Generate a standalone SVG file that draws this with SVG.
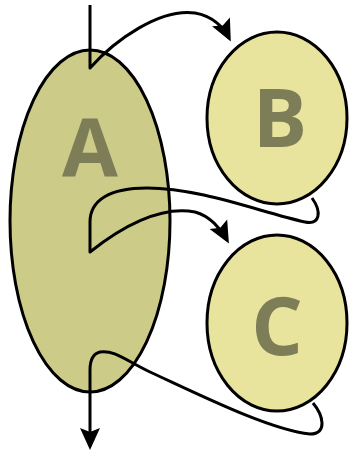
<svg xmlns="http://www.w3.org/2000/svg" width="350" height="453" viewBox="0 0 350 453">
  <style>
    .node { stroke: #000; stroke-width: 3; }
    .big { fill: #cccc88; }
    .small { fill: #e8e49e; }
    .label { font-family: "Open Sans", "Liberation Sans", sans-serif; font-weight: 700; font-size: 81px; fill: #7d7d58; text-anchor: middle; }
    .edge { fill: none; stroke: #000; stroke-width: 3; stroke-linejoin: round; marker-end: url(#arrow); }
  </style>
  <defs>
    <marker id="arrow" markerUnits="userSpaceOnUse" markerWidth="30" markerHeight="30" viewBox="-24 -12 30 24" refX="0" refY="0" orient="auto">
      <path d="M4,0 L-18,-10 L-14,0 L-18,10 Z" fill="#000"/>
    </marker>
  </defs>

  <g id="node-A">
    <ellipse class="node big" cx="90" cy="221" rx="80" ry="171"/>
    <text class="label" x="90" y="177">A</text>
  </g>
  <g id="node-B">
    <ellipse class="node small" cx="277" cy="118" rx="70" ry="86"/>
    <text class="label" x="280" y="147">B</text>
  </g>
  <g id="node-C">
    <ellipse class="node small" cx="277" cy="323" rx="70" ry="88"/>
    <text class="label" x="277" y="355">C</text>
  </g>

  <g id="connectors">
    <path class="edge" d="M90,5 V68 C115,40 160,8 195,13 C213,16 224,28 229,38"/>
    <path class="edge" d="M312,198 C322,212 320,225 305,222 C260,212 200,188 147,188 C110,188 90,200 90,222 V252 C120,228 160,205 195,212 C210,216 221,229 227,240"/>
    <path class="edge" d="M313,403 C323,415 328,434 310,434 C270,430 200,395 150,372 C125,360 115,350 100,352 C92,354 90,362 90,370 V446"/>
  </g>
</svg>
